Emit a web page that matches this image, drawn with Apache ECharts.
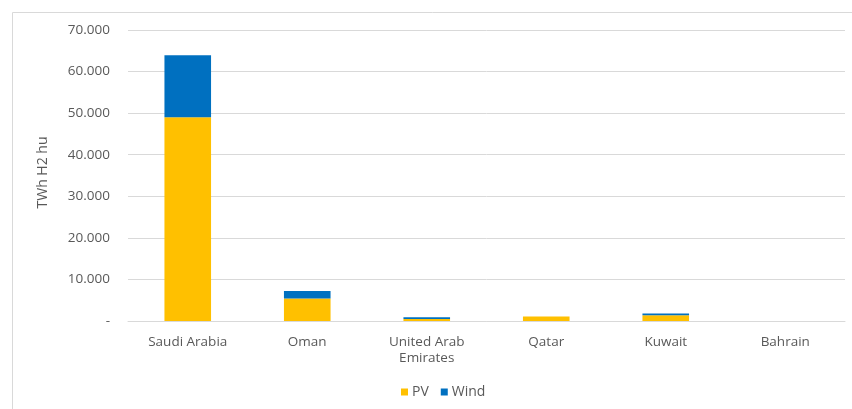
<!DOCTYPE html>
<html><head><meta charset="utf-8">
<script src="https://cdn.jsdelivr.net/npm/echarts@6/dist/echarts.min.js"></script>
<style>html,body{margin:0;padding:0;background:#fff}#c{width:852px;height:409px}</style>
</head><body><div id="c"></div>
<script>
const categories = ['Saudi Arabia', 'Oman', 'United Arab\nEmirates', 'Qatar', 'Kuwait', 'Bahrain'];
const pvValues = [49000, 5400, 500, 1100, 1400, 0];
const windValues = [14900, 1800, 400, 0, 400, 0];
const yTicks = { min: 0, max: 70000, interval: 10000 };
const axisTitle = 'TWh H2 hu';

function fmt(v) {
  if (v === 0) return '-';
  return String(Math.round(v)).replace(/\B(?=(\d{3})+(?!\d))/g, '.');
}
const font = 'Open Sans, Liberation Sans, sans-serif';
const chart = echarts.init(document.getElementById('c'), null, { renderer: 'canvas' });
chart.setOption({
  animation: false,
  graphic: [{ type: 'rect', shape: { x: 12.5, y: 12.5, width: 900, height: 500 }, style: { fill: 'none', stroke: '#d9d9d9', lineWidth: 1 }, silent: true }],
  grid: { left: 128, right: 7, top: 30, bottom: 88 },
  legend: {
    data: ['PV', 'Wind'], top: 380, left: 396, itemWidth: 7, itemHeight: 7, itemGap: 12,
    icon: 'rect', textStyle: { color: '#595959', fontSize: 14, fontFamily: font, padding: [0, 0, 0, -1] }
  },
  xAxis: {
    type: 'category', data: categories,
    axisLine: { lineStyle: { color: '#d9d9d9' } }, axisTick: { show: false },
    axisLabel: { color: '#595959', fontSize: 13.5, fontFamily: font, margin: 13, lineHeight: 16 }
  },
  yAxis: {
    type: 'value', min: yTicks.min, max: yTicks.max, interval: yTicks.interval,
    name: axisTitle, nameLocation: 'middle', nameGap: 78, nameRotate: 90,
    nameTextStyle: { color: '#595959', fontSize: 14, fontFamily: font, padding: [0, 0, 0, 6] },
    axisLine: { show: false }, axisTick: { show: false },
    splitLine: { lineStyle: { color: '#d9d9d9' } },
    axisLabel: { color: '#595959', fontSize: 13.5, fontFamily: font, margin: 18, formatter: fmt }
  },
  series: [
    { name: 'PV', type: 'bar', stack: 't', data: pvValues, barWidth: '39%', itemStyle: { color: '#FFC000' } },
    { name: 'Wind', type: 'bar', stack: 't', data: windValues, barWidth: '39%', itemStyle: { color: '#0070C0' } }
  ]
});
</script></body></html>
